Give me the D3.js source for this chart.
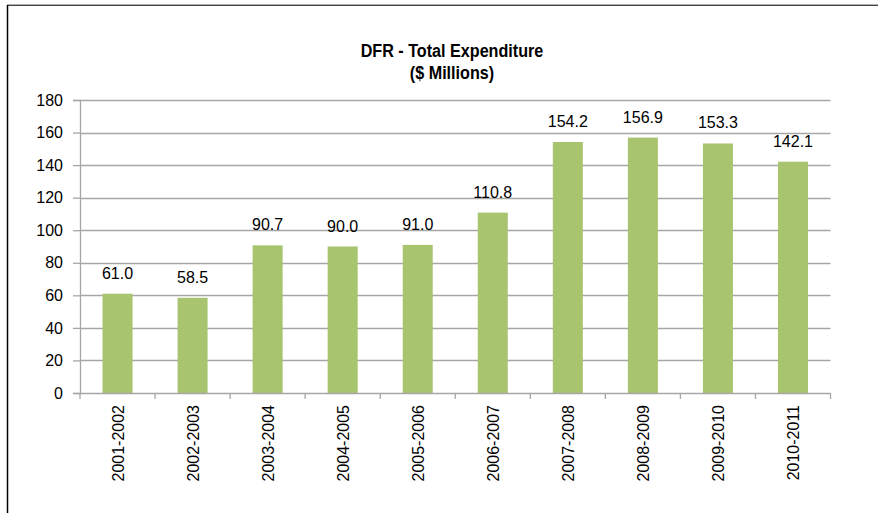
<!DOCTYPE html>
<html>
<head>
<meta charset="utf-8">
<script src="https://cdn.jsdelivr.net/npm/d3@7"></script>
<style>
  body { margin: 0; background: #fff; }
  svg { display: block; font-family: "Liberation Sans", Arial, sans-serif; }
</style>
</head>
<body>
<svg id="area" width="878" height="513"></svg>
<script>
const years = ['2001-2002', '2002-2003', '2003-2004', '2004-2005', '2005-2006',
  '2006-2007', '2007-2008', '2008-2009', '2009-2010', '2010-2011'];
const expenditure = [61.0, 58.5, 90.7, 90.0, 91.0, 110.8, 154.2, 156.9, 153.3, 142.1];
const yTicks = [0, 20, 40, 60, 80, 100, 120, 140, 160, 180];

const svg = d3.select('#area');

// frame: top line and left line
svg.append('line').attr('x1', 7).attr('x2', 878).attr('y1', 4.5).attr('y2', 4.5)
  .attr('stroke', '#b0b0b0').attr('stroke-width', 1);
svg.append('line').attr('x1', 7).attr('x2', 878).attr('y1', 5.5).attr('y2', 5.5)
  .attr('stroke', '#444').attr('stroke-width', 1);
svg.append('line').attr('x1', 7.5).attr('x2', 7.5).attr('y1', 5).attr('y2', 513)
  .attr('stroke', '#000').attr('stroke-width', 1.5);

const plotLeft = 80, plotRight = 830.5, plotTop = 100, plotBottom = 393;

const x = d3.scaleBand().domain(years).range([plotLeft, plotRight]).paddingInner(0.6).paddingOuter(0.3);
const y = d3.scaleLinear().domain([0, 180]).range([plotBottom, plotTop]);

// title (condensed look like Arial Narrow)
const title = svg.append('g').attr('transform', 'translate(452,0) scale(0.85,1)')
  .attr('font-size', 19).attr('font-weight', 'bold').attr('text-anchor', 'middle');
title.append('text').attr('x', 0).attr('y', 57).text('DFR - Total Expenditure');
title.append('text').attr('x', 0).attr('y', 79).text('($ Millions)');

// gridlines
svg.append('g').selectAll('line').data(yTicks.filter((d) => d > 0)).join('line')
  .attr('x1', plotLeft).attr('x2', plotRight)
  .attr('y1', (d) => Math.round(y(d)) + 0.5).attr('y2', (d) => Math.round(y(d)) + 0.5)
  .attr('stroke', '#a6a6a6').attr('stroke-width', 1.3);

// y axis
const yAxis = svg.append('g').attr('transform', `translate(${plotLeft},0)`)
  .call(d3.axisLeft(y).tickValues(yTicks).tickSize(7).tickPadding(10).tickFormat(d3.format('d')));
yAxis.select('.domain').attr('stroke', '#a6a6a6').attr('stroke-width', 1.3);
yAxis.selectAll('.tick line').attr('stroke', '#a6a6a6').attr('stroke-width', 1.3);
yAxis.selectAll('.tick text').attr('font-size', 16).attr('fill', '#000')
  .attr('font-family', '"Liberation Sans", Arial, sans-serif');

// bars
svg.append('g').selectAll('rect').data(expenditure).join('rect')
  .attr('x', (d, i) => x(years[i]))
  .attr('y', (d) => y(d))
  .attr('width', x.bandwidth())
  .attr('height', (d) => y(0) - y(d))
  .attr('fill', '#a8c46e');

// value labels
svg.append('g').selectAll('text').data(expenditure).join('text')
  .attr('x', (d, i) => x(years[i]) + x.bandwidth() / 2)
  .attr('y', (d) => y(d) - 15)
  .attr('text-anchor', 'middle')
  .attr('font-size', 16)
  .text((d) => d.toFixed(1));

// x axis
const xOuter = d3.scaleBand().domain(years).range([plotLeft, plotRight]);
const xAxis = svg.append('g').attr('transform', `translate(0,${plotBottom})`);
xAxis.append('line').attr('x1', plotLeft).attr('x2', plotRight).attr('y1', 0.5).attr('y2', 0.5)
  .attr('stroke', '#a6a6a6').attr('stroke-width', 1.3);
xAxis.selectAll('.tk').data(years.concat(['end'])).join('line')
  .attr('class', 'tk')
  .attr('x1', (d, i) => (i < years.length ? xOuter(d) : plotRight))
  .attr('x2', (d, i) => (i < years.length ? xOuter(d) : plotRight))
  .attr('y1', 0).attr('y2', 6)
  .attr('stroke', '#a6a6a6').attr('stroke-width', 1.3);
xAxis.selectAll('text').data(years).join('text')
  .attr('transform', (d) => `translate(${xOuter(d) + xOuter.bandwidth() / 2 + 6},12) rotate(-90)`)
  .attr('text-anchor', 'end')
  .attr('font-size', 16)
  .text((d) => d);
</script>
</body>
</html>
